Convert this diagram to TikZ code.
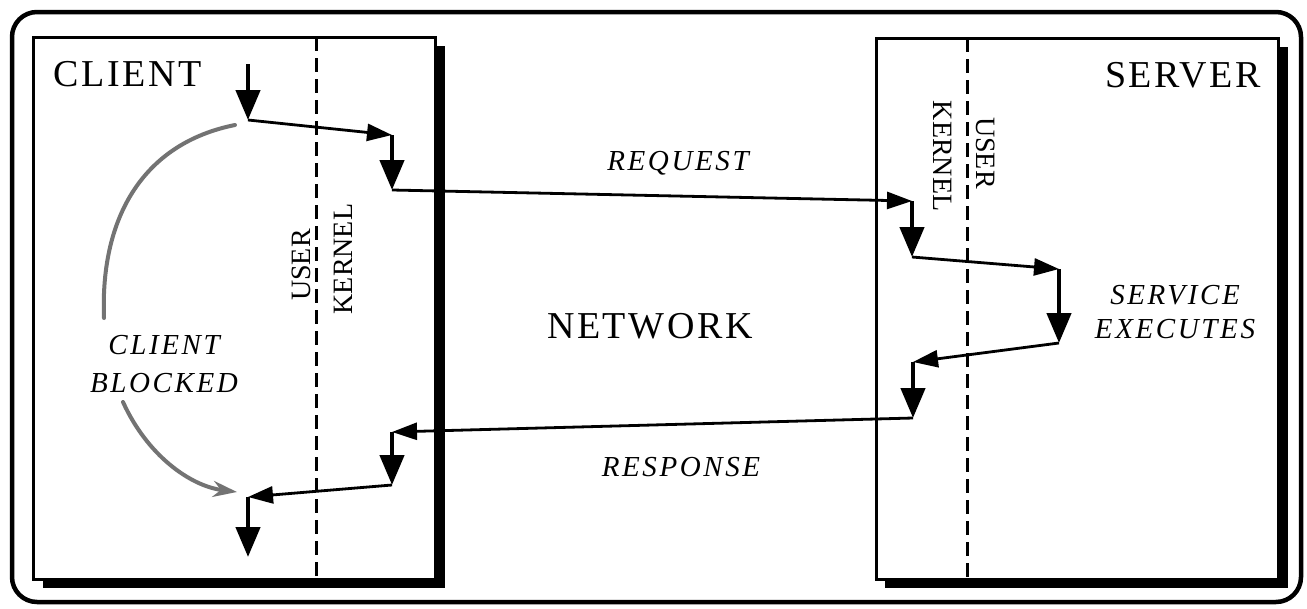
\documentclass[tikz,border=0pt]{standalone}
\usepackage{fontspec}
\setmainfont{Liberation Serif}
\usepackage{tikz}
\usetikzlibrary{arrows.meta, positioning, calc}

\tikzset{
  thickarr/.style={line width=4.5pt, -{Triangle[length=30pt,width=24pt]}},
  thinarr/.style={line width=2.8pt, -{Triangle[length=25pt,width=17pt]}},
  blockarr/.style={black!55, line width=4pt, line cap=round},
  bigtxt/.style={font=\fontsize{38}{40}\selectfont\addfontfeature{LetterSpace=7}, inner sep=0pt},
  itxt/.style={font=\fontsize{29}{34}\selectfont\itshape\addfontfeature{LetterSpace=9}, inner sep=0pt, align=center},
  sidetxt/.style={font=\fontsize{28}{30}\selectfont, inner sep=0pt},
  splitline/.style={line width=3pt, dash pattern=on 14pt off 7pt}
}

\begin{document}
\begin{tikzpicture}[x=1pt, y=-1pt]
  \useasboundingbox (0,0) rectangle (1307,608);
  % outer frame
  \draw[line width=4.5pt, rounded corners=25pt] (12,12) rectangle (1301,602);

  % client machine, with shadow
  \fill[black] (43,46) rectangle (445,588);
  \filldraw[fill=white, line width=3pt] (33,37) rectangle (435,579);
  \draw[splitline] (316,37) -- (316,579);
  % server machine, with shadow
  \fill[black] (885,47) rectangle (1288,588);
  \filldraw[fill=white, line width=3pt] (876,38) rectangle (1278,579);
  \draw[splitline] (967,38) -- (967,579);

  % labels
  \node[bigtxt] (client) at (128,74) {CLIENT};
  \node[bigtxt] (server) at (1183,75) {SERVER};
  \node[bigtxt] (network) at (650,326) {NETWORK};
  \node[itxt] (request) at (678,163) {REQUEST};
  \node[itxt] (response) at (681,467) {RESPONSE};
  \node[itxt] (service) at (1175,312) {SERVICE\\EXECUTES};
  \node[itxt] (blocked) at (164,364) {CLIENT\\[4pt]BLOCKED};
  \node[sidetxt, rotate=90] (cuser) at (301,265) {USER};
  \node[sidetxt, rotate=90] (ckernel) at (343,259) {KERNEL};
  \node[sidetxt, rotate=-90] (skernel) at (943,156) {KERNEL};
  \node[sidetxt, rotate=-90] (suser) at (986,153) {USER};

  % points of the call path
  \coordinate (c0) at (248,64);
  \coordinate (c1) at (248,120);
  \coordinate (c2) at (392,135);
  \coordinate (c3) at (392,190);
  \coordinate (s1) at (912,201);
  \coordinate (s2) at (912,257);
  \coordinate (s3) at (1059,269);
  \coordinate (s4) at (1059,343);
  \coordinate (s5) at (913,362);
  \coordinate (s6) at (913,418);
  \coordinate (c4) at (392,432);
  \coordinate (c5) at (392,485);
  \coordinate (c6) at (248,497);
  \coordinate (c7) at (248,557);

  % request goes down through client and out
  \draw[thickarr] (c0) -- (c1);
  \draw[thinarr] (c1) -- (c2);
  \draw[thickarr] (c2) -- (c3);
  \draw[thinarr] (c3) -- (s1);
  % server side
  \draw[thickarr] (s1) -- (s2);
  \draw[thinarr] (s2) -- (s3);
  \draw[thickarr] (s3) -- (s4);
  \draw[thinarr] (s4) -- (s5);
  \draw[thickarr] (s5) -- (s6);
  % response back to client
  \draw[thinarr] (s6) -- (c4);
  \draw[thickarr] (c4) -- (c5);
  \draw[thinarr] (c5) -- (c6);
  \draw[thickarr] (c6) -- (c7);

  % client blocked curve
  \coordinate (b0) at (235,125);
  \coordinate (b1) at (104,318);
  \coordinate (b2) at (123,402);
  \coordinate (b3) at (237,492);
  \draw[blockarr] (b0) .. controls (145,143) and (100,215) .. (b1);
  \draw[blockarr, -{Stealth[length=24pt,width=16pt]}] (b2) .. controls (147,455) and (190,486) .. (b3);
\end{tikzpicture}
\end{document}
